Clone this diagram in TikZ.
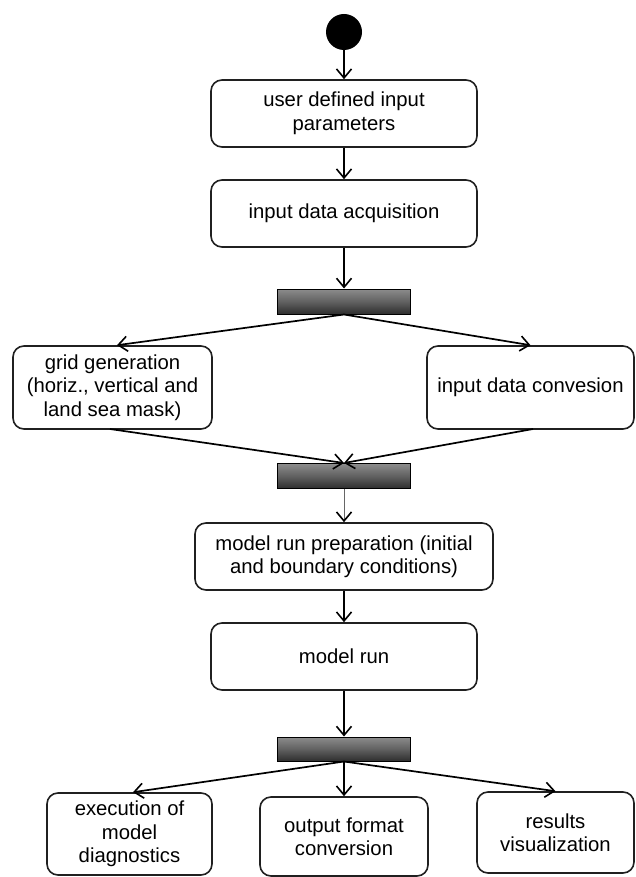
\documentclass[tikz,border=0pt]{standalone}
\usepackage{fontspec}
\setmainfont{Liberation Sans}
\usetikzlibrary{arrows.meta}
\definecolor{edge}{HTML}{202020}
\begin{document}
\begin{tikzpicture}[x=1pt,y=-1pt,
  act/.style={draw=edge,line width=1.6pt,rounded corners=11pt,fill=white,
    align=center,inner sep=0pt,font=\fontsize{20.3}{23.5}\selectfont},
  bar/.style={draw=black,line width=1pt,top color=black!45,bottom color=black!82,
    middle color=black!62,minimum width=133pt,minimum height=25pt,inner sep=0pt},
  flow/.style={draw=black,line width=1.7pt,-{Straight Barb[length=9pt,width=15pt,line width=1.6pt]}},
  thin/.style={draw=black!60,line width=1pt,-{Straight Barb[length=9pt,width=15pt,line width=1.6pt,black]}}
]
\useasboundingbox (0,0) rectangle (635,877);
\node[circle,fill=black,minimum size=36pt,inner sep=0pt] (start) at (344,32) {};
\node[act,minimum width=266pt,minimum height=67pt] (udp) at (344,113.5) {user defined input\\parameters};
\node[act,minimum width=266pt,minimum height=67pt] (ida) at (344,213.5) {input data acquisition};
\node[bar] (b1) at (344,301.5) {};
\node[act,minimum width=199pt,minimum height=83pt] (grid) at (112.5,387.5) {grid generation\\(horiz., vertical and\\land sea mask)};
\node[act,minimum width=207pt,minimum height=83pt] (conv) at (530.5,387.5) {input data convesion};
\node[bar] (b2) at (344,476) {};
\node[act,minimum width=298pt,minimum height=67pt] (prep) at (344,556.5) {model run preparation (initial\\and boundary conditions)};
\node[act,minimum width=266pt,minimum height=67pt] (run) at (344,656.5) {model run};
\node[bar,minimum height=24pt] (b3) at (344,749) {};
\node[act,minimum width=165pt,minimum height=82pt] (exec) at (129.5,834) {execution of\\model\\diagnostics};
\node[act,minimum width=168pt,minimum height=79pt] (out) at (344,836.5) {output format\\conversion};
\node[act,minimum width=157pt,minimum height=81pt] (res) at (555.5,832.5) {results\\visualization};
\coordinate (grids) at (110,429);
\coordinate (convs) at (533,429);
\draw[flow] (start) -- (udp);
\draw[flow] (udp) -- (ida);
\draw[flow] (ida) -- (b1);
\draw[flow] (b1.south) -- (grid.north -| 117,0);
\draw[flow] (b1.south) -- (conv.north);
\draw[flow] (grids) -- (b2.north);
\draw[flow] (convs) -- (b2.north);
\draw[thin] (b2.south) -- (prep.north);
\draw[flow] (prep) -- (run);
\draw[flow] (run) -- (b3);
\draw[flow] (b3.south) -- (exec.north -| 133,0);
\draw[flow] (b3.south) -- (out.north);
\draw[flow] (b3.south) -- (res.north);
\end{tikzpicture}
\end{document}
